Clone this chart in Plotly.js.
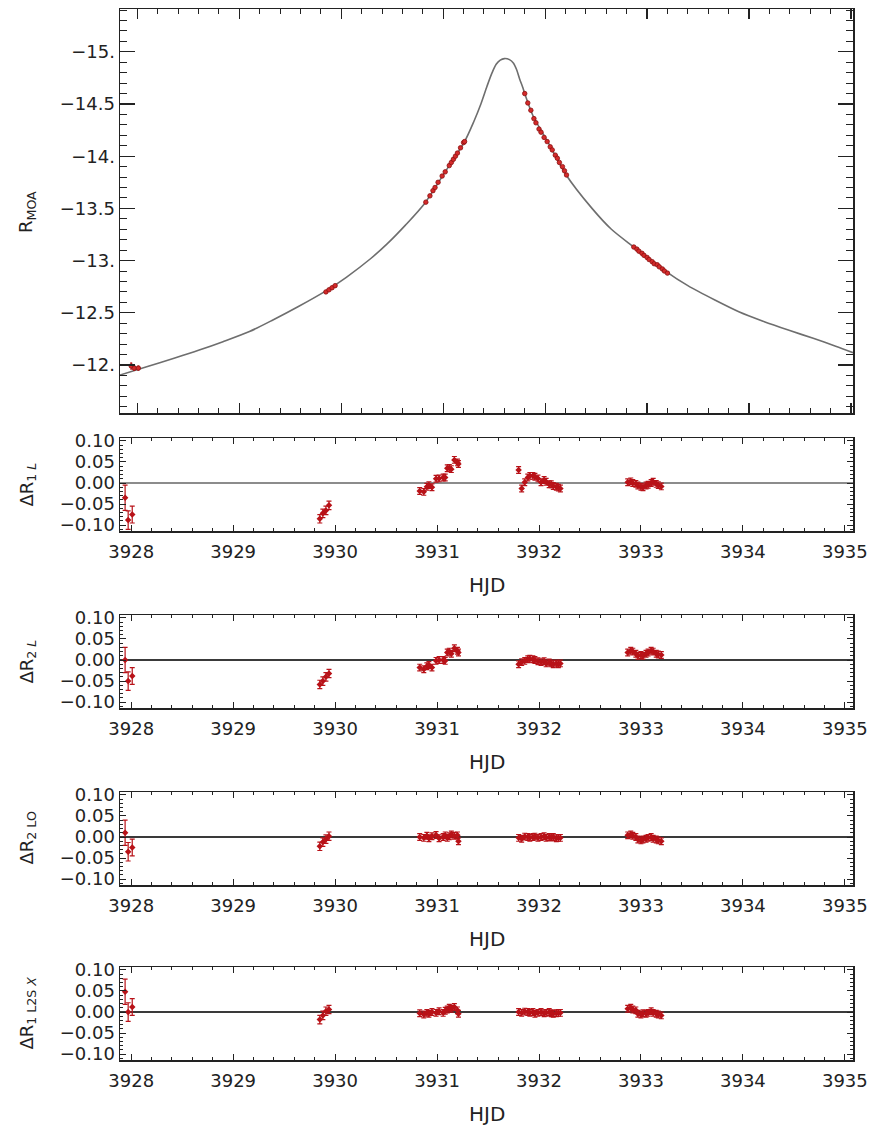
<!DOCTYPE html>
<html>
<head>
<meta charset="utf-8">
<script src="https://cdn.plot.ly/plotly-3.0.1.min.js"></script>
<style>html,body{margin:0;padding:0;background:#fff;}#chart{width:870px;height:1125px;}</style>
</head>
<body>
<div id="chart"></div>
<script>
// ---- Model light curve ----
const modelHJD = [3927.83, 3928.10, 3928.36, 3928.60, 3928.84, 3929.10, 3929.33, 3929.58, 3929.85, 3930.05, 3930.29, 3930.45, 3930.63, 3930.82, 3931.01, 3931.21, 3931.30, 3931.37, 3931.43, 3931.48, 3931.52, 3931.56, 3931.60, 3931.65, 3931.69, 3931.72, 3931.75, 3931.78, 3931.80, 3931.88, 3932.03, 3932.20, 3932.46, 3932.65, 3932.87, 3933.18, 3933.40, 3933.67, 3933.90, 3934.15, 3934.40, 3934.63, 3934.85, 3935.02];
const modelMag = [-11.904, -11.985, -12.064, -12.140, -12.223, -12.320, -12.431, -12.560, -12.710, -12.840, -13.020, -13.160, -13.340, -13.550, -13.835, -14.140, -14.330, -14.500, -14.670, -14.800, -14.880, -14.920, -14.935, -14.925, -14.890, -14.830, -14.740, -14.660, -14.600, -14.390, -14.130, -13.830, -13.500, -13.300, -13.130, -12.900, -12.760, -12.620, -12.510, -12.415, -12.330, -12.255, -12.180, -12.118];

// ---- Observations ----
const hjd = [
  3927.94, 3927.97, 3928.01,
  3929.85, 3929.88, 3929.91, 3929.94,
  3930.83, 3930.87, 3930.90, 3930.92, 3930.95, 3930.99, 3931.02, 3931.06, 3931.08, 3931.10, 3931.12, 3931.14, 3931.17, 3931.20, 3931.21,
  3931.80, 3931.83, 3931.86, 3931.89, 3931.91, 3931.94, 3931.96, 3931.99, 3932.02, 3932.05, 3932.07, 3932.10, 3932.12, 3932.14, 3932.17, 3932.19, 3932.21,
  3932.87, 3932.90, 3932.92, 3932.95, 3932.97, 3933.00, 3933.02, 3933.05, 3933.07, 3933.10, 3933.12, 3933.15, 3933.17, 3933.20
];
const magMOA = [
  -11.99, -11.97, -11.97,
  -12.70, -12.72, -12.74, -12.76,
  -13.56, -13.62, -13.67, -13.70, -13.75, -13.81, -13.85, -13.91, -13.94, -13.97, -14.00, -14.03, -14.08, -14.13, -14.14,
  -14.60, -14.51, -14.44, -14.36, -14.32, -14.26, -14.23, -14.18, -14.14, -14.09, -14.06, -14.01, -13.98, -13.94, -13.90, -13.86, -13.82,
  -13.13, -13.11, -13.09, -13.07, -13.05, -13.03, -13.01, -12.99, -12.97, -12.96, -12.94, -12.92, -12.90, -12.88
];
const errRes = [
  0.030, 0.022, 0.020,
  0.010, 0.010, 0.010, 0.010,
  0.008, 0.008, 0.008, 0.008, 0.008, 0.008, 0.008, 0.008, 0.008, 0.008, 0.008, 0.008, 0.008, 0.008, 0.008,
  0.008, 0.008, 0.008, 0.008, 0.008, 0.008, 0.008, 0.008, 0.008, 0.008, 0.008, 0.008, 0.008, 0.008, 0.008, 0.008, 0.008,
  0.008, 0.008, 0.008, 0.008, 0.008, 0.008, 0.008, 0.008, 0.008, 0.008, 0.008, 0.008, 0.008, 0.008
];
const res1L = [
  -0.035, -0.088, -0.075,
  -0.085, -0.072, -0.065, -0.053,
  -0.019, -0.021, -0.009, -0.005, -0.010, 0.010, 0.011, 0.013, 0.013, 0.035, 0.036, 0.033, 0.055, 0.049, 0.045,
  0.031, -0.013, 0.002, 0.013, 0.017, 0.017, 0.015, 0.011, 0.002, 0.007, 0.003, -0.003, -0.003, -0.007, -0.009, -0.011, -0.013,
  0.002, 0.004, 0.000, -0.002, -0.006, -0.009, -0.010, -0.006, -0.004, 0.000, 0.003, -0.002, -0.005, -0.008
];
const res2L = [
  0.000, -0.050, -0.038,
  -0.058, -0.050, -0.040, -0.032,
  -0.018, -0.022, -0.015, -0.012, -0.018, -0.002, 0.000, 0.000, -0.002, 0.018, 0.020, 0.015, 0.028, 0.022, 0.018,
  -0.010, -0.005, -0.002, 0.002, 0.003, 0.002, 0.000, -0.003, -0.005, -0.003, -0.008, -0.006, -0.008, -0.010, -0.008, -0.010, -0.008,
  0.018, 0.022, 0.020, 0.015, 0.010, 0.012, 0.010, 0.015, 0.018, 0.022, 0.020, 0.015, 0.013, 0.012
];
const res2LO = [
  0.010, -0.035, -0.025,
  -0.022, -0.012, -0.005, 0.002,
  0.000, -0.002, 0.003, -0.003, 0.002, 0.005, -0.003, 0.000, 0.004, -0.002, 0.002, 0.006, 0.003, 0.004, -0.010,
  -0.002, -0.004, 0.001, 0.000, -0.002, 0.000, 0.001, -0.002, 0.000, 0.002, -0.002, 0.000, -0.001, 0.000, -0.003, -0.002, -0.002,
  0.004, 0.006, 0.003, 0.000, -0.006, -0.008, -0.006, -0.004, -0.002, 0.000, -0.004, -0.006, -0.008, -0.010
];
const res1L2SX = [
  0.048, 0.000, 0.012,
  -0.018, -0.008, 0.002, 0.006,
  -0.003, -0.006, -0.002, -0.004, 0.000, -0.002, 0.002, -0.002, 0.003, 0.006, 0.010, 0.008, 0.012, 0.004, -0.004,
  0.000, -0.002, 0.001, 0.000, -0.002, 0.000, -0.004, -0.002, 0.000, -0.003, -0.002, 0.000, -0.003, -0.004, -0.003, -0.002, -0.002,
  0.008, 0.010, 0.006, 0.004, -0.004, -0.006, -0.003, -0.004, -0.002, 0.002, -0.002, -0.004, -0.006, -0.008
];

// tick labels
const magTickVals = [-15, -14.5, -14, -13.5, -13, -12.5, -12];
const magTickText = ['\u221215.', '\u221214.5', '\u221214.', '\u221213.5', '\u221213.', '\u221212.5', '\u221212.'];
const resTickVals = [0.10, 0.05, 0.00, -0.05, -0.10];
const resTickText = ['0.10', '0.05', '0.00', '\u22120.05', '\u22120.10'];
const hjdTickVals = [3928, 3929, 3930, 3931, 3932, 3933, 3934, 3935];
const resTitles = ['\u0394R<sub>1 <i>L</i></sub>', '\u0394R<sub>2 <i>L</i></sub>', '\u0394R<sub>2 LO</sub>', '\u0394R<sub>1 L2S <i>X</i></sub>'];
const resSeries = [res1L, res2L, res2LO, res1L2SX];

const W = 870, H = 1125;
const px = v => v / W;
const py = v => 1 - v / H;
const FONT = 'DejaVu Sans, Liberation Sans, Arial, sans-serif';
const red = '#b81218';

const traces = [];
traces.push({
  x: modelHJD, y: modelMag, type: 'scatter', mode: 'lines',
  line: {color: '#6e6e6e', width: 1.6, shape: 'spline', smoothing: 0.8},
  xaxis: 'x', yaxis: 'y', hoverinfo: 'skip'
});
traces.push({
  x: hjd, y: magMOA, type: 'scatter', mode: 'markers',
  marker: {color: '#d42a2a', size: 4.5, line: {color: '#8a1010', width: 0.8}},
  error_y: {type: 'data', array: errRes, color: red, thickness: 1, width: 1},
  xaxis: 'x', yaxis: 'y'
});
resSeries.forEach((s, i) => {
  traces.push({
    x: hjd, y: s, type: 'scatter', mode: 'markers',
    marker: {color: red, size: 5, symbol: 'diamond'},
    error_y: {type: 'data', array: errRes, color: red, thickness: 1.2, width: 2.5},
    xaxis: 'x' + (i + 2), yaxis: 'y' + (i + 2)
  });
});

const frame = {showline: true, mirror: 'allticks', linecolor: '#222', linewidth: 1.5,
  ticks: 'inside', tickcolor: '#222', zeroline: false, showgrid: false,
  tickfont: {family: FONT, size: 18, color: '#222'}};

const layout = {
  width: W, height: H, showlegend: false,
  margin: {l: 0, r: 0, t: 0, b: 0},
  paper_bgcolor: '#fff', plot_bgcolor: '#fff',
  font: {family: FONT, color: '#222'},
  xaxis: Object.assign({}, frame, {
    domain: [px(120), px(853)], range: [3927.83, 3935.02], anchor: 'y',
    tickvals: hjdTickVals, showticklabels: false, ticklen: 10, tickwidth: 1.2,
    minor: {ticks: 'inside', ticklen: 5, dtick: 0.2, tick0: 3928, tickcolor: '#222', tickwidth: 1}
  }),
  yaxis: Object.assign({}, frame, {
    domain: [py(413), py(9)], range: [-11.54, -15.41], anchor: 'x',
    tickvals: magTickVals, ticktext: magTickText, ticklen: 15, tickwidth: 1.2,
    minor: {ticks: 'inside', ticklen: 7, dtick: 0.1, tick0: -15, tickcolor: '#222', tickwidth: 1}
  }),
  shapes: [], annotations: []
};

const panelTops = [438, 615, 792, 967];
const panelBots = [531, 708, 885, 1060];
const zeroColors = ['#8c8c8c', '#3a3a3a', '#3a3a3a', '#3a3a3a'];
for (let i = 0; i < 4; i++) {
  const n = i + 2;
  layout['xaxis' + n] = Object.assign({}, frame, {
    domain: [px(120), px(853)], range: [3927.89, 3935.08], anchor: 'y' + n,
    tickvals: hjdTickVals, ticklen: 6, tickwidth: 1,
    ticklabelstandoff: 4,
    minor: {ticks: 'inside', ticklen: 3, dtick: 0.2, tick0: 3928, tickcolor: '#222', tickwidth: 1}
  });
  layout['yaxis' + n] = Object.assign({}, frame, {
    domain: [py(panelBots[i]), py(panelTops[i])], range: [-0.114, 0.107], anchor: 'x' + n,
    tickvals: resTickVals, ticktext: resTickText, ticklen: 6, tickwidth: 1,
    minor: {ticks: 'inside', ticklen: 3, dtick: 0.01, tick0: 0, tickcolor: '#222', tickwidth: 1}
  });
  layout.shapes.push({type: 'line', xref: 'x' + n + ' domain', yref: 'y' + n,
    x0: 0, x1: 1, y0: 0, y1: 0, line: {color: zeroColors[i], width: 2}, layer: 'below'});
  layout.annotations.push({text: resTitles[i], xref: 'paper', yref: 'paper',
    x: px(27), y: py((panelTops[i] + panelBots[i]) / 2), textangle: -90,
    showarrow: false, xanchor: 'center', yanchor: 'middle',
    font: {family: FONT, size: 18, color: '#222'}});
  layout.annotations.push({text: 'HJD', xref: 'paper', yref: 'paper',
    x: px(486.5), y: py(panelBots[i] + 54), showarrow: false,
    xanchor: 'center', yanchor: 'middle',
    font: {family: FONT, size: 20, color: '#222'}});
}
layout.annotations.push({text: 'R<sub>MOA</sub>', xref: 'paper', yref: 'paper',
  x: px(27), y: py(212), textangle: -90, showarrow: false,
  xanchor: 'center', yanchor: 'middle', font: {family: FONT, size: 18, color: '#222'}});

Plotly.newPlot('chart', traces, layout, {displayModeBar: false, staticPlot: true});
</script>
</body>
</html>
